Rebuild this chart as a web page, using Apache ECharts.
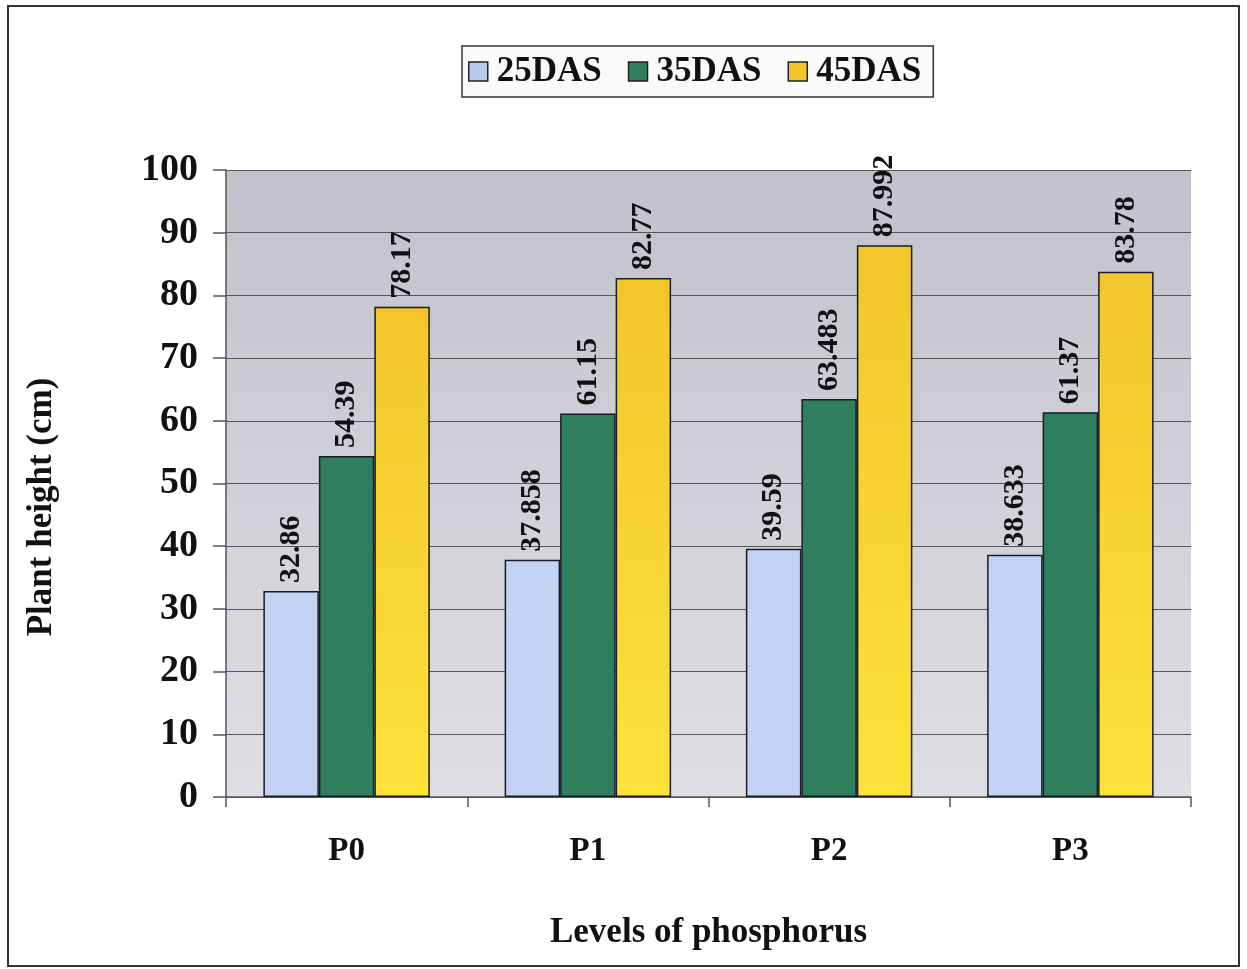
<!DOCTYPE html>
<html>
<head>
<meta charset="utf-8">
<script src="https://cdn.jsdelivr.net/npm/echarts@6/dist/echarts.min.js"></script>
<style>html,body{margin:0;padding:0;background:#fff}#c{width:1247px;height:969px}</style>
</head>
<body>
<div id="c"></div>
<script>
const categories = ['P0', 'P1', 'P2', 'P3'];
const seriesNames = ['25DAS', '35DAS', '45DAS'];
const das25 = [32.86, 37.858, 39.59, 38.633];
const das35 = [54.39, 61.15, 63.483, 61.37];
const das45 = [78.17, 82.77, 87.992, 83.78];
const yTicks = [0, 10, 20, 30, 40, 50, 60, 70, 80, 90, 100];
const xTitle = 'Levels of phosphorus';
const yTitle = 'Plant height (cm)';

const FONT = '"Liberation Serif", "Times New Roman", serif';
const colors = [
  '#c3d3f3',
  '#2f7f5e',
  new echarts.graphic.LinearGradient(0, 0, 0, 1, [{offset: 0, color: '#f2c62a'}, {offset: 1, color: '#fde23a'}])
];
const legendColors = ['#b9c9ec', '#2f7f5e', '#f2c62a'];
const values = [das25, das35, das45];

const chart = echarts.init(document.getElementById('c'), null, {renderer: 'canvas'});
chart.setOption({
  animation: false,
  backgroundColor: '#ffffff',
  textStyle: {fontFamily: FONT},
  graphic: [{
    type: 'rect',
    shape: {x: 8, y: 6, width: 1231, height: 960},
    style: {fill: 'none', stroke: '#333', lineWidth: 2},
    z: 100
  }, {
    type: 'text',
    rotation: Math.PI / 2,
    x: 42, y: 507,
    style: {
      text: yTitle,
      fontFamily: FONT, fontWeight: 'bold', fontSize: 35, fill: '#111',
      align: 'center', verticalAlign: 'middle'
    }
  }],
  legend: {
    top: 46,
    left: 462,
    icon: 'rect',
    itemWidth: 19,
    itemHeight: 19,
    itemGap: 26,
    padding: [8, 12, 8, 6],
    borderColor: '#333',
    borderWidth: 1.5,
    backgroundColor: '#fafafa',
    textStyle: {fontFamily: FONT, fontWeight: 'bold', fontSize: 35, color: '#111', padding: [0, 0, 0, 4]},
    data: seriesNames.map((n, i) => ({name: n, itemStyle: {color: legendColors[i], borderColor: '#222', borderWidth: 1.5}}))
  },
  grid: {
    left: 226, right: 56, top: 170, bottom: 172,
    show: true,
    borderWidth: 0,
    backgroundColor: new echarts.graphic.LinearGradient(0, 0, 0, 1, [{offset: 0, color: '#c2c2cc'}, {offset: 1, color: '#dedee4'}])
  },
  xAxis: {
    type: 'category',
    data: categories,
    name: xTitle,
    nameLocation: 'middle',
    nameGap: 118,
    nameTextStyle: {fontFamily: FONT, fontWeight: 'bold', fontSize: 35, color: '#111'},
    axisLine: {lineStyle: {color: '#555', width: 1.5}},
    axisTick: {show: true, length: 10, lineStyle: {color: '#555', width: 1.5}},
    axisLabel: {fontFamily: FONT, fontWeight: 'bold', fontSize: 33, color: '#111', margin: 38}
  },
  yAxis: {
    type: 'value',
    min: 0, max: 100, interval: 10,
    axisLine: {show: true, lineStyle: {color: '#555', width: 1.5}},
    axisTick: {show: true, length: 13, lineStyle: {color: '#555', width: 1.5}},
    splitLine: {lineStyle: {color: '#555', width: 1.2}},
    axisLabel: {fontFamily: FONT, fontWeight: 'bold', fontSize: 38, color: '#111', margin: 28,
      formatter: v => yTicks.includes(v) ? String(v) : ''}
  },
  series: seriesNames.map((n, i) => ({
    name: n,
    type: 'bar',
    data: values[i],
    barGap: '0%',
    barCategoryGap: '31%',
    itemStyle: {color: colors[i], borderColor: '#1a1a2a', borderWidth: 1.5},
    label: {
      show: true,
      position: 'top',
      rotate: 90,
      align: 'left',
      verticalAlign: 'middle',
      distance: 8,
      fontFamily: FONT,
      fontWeight: 'bold',
      fontSize: 30,
      color: '#111',
      formatter: p => String(p.value)
    }
  }))
});
</script>
</body>
</html>
